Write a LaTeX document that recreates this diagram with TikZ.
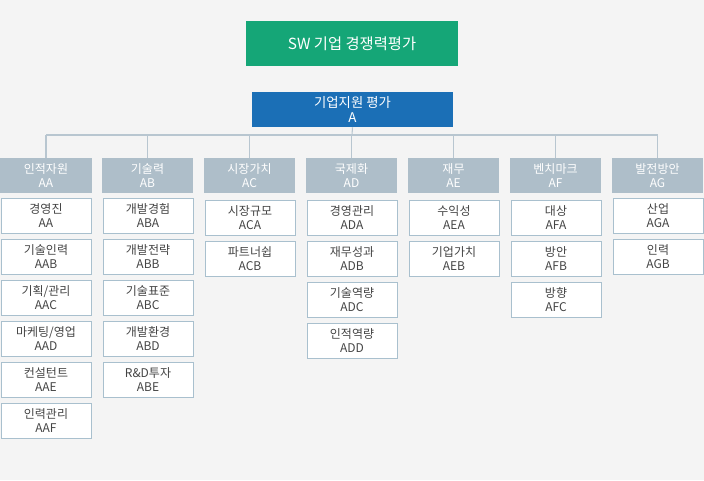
\documentclass[tikz,border=0pt]{standalone}
\usepackage{fontspec}
\setmainfont{Noto Sans CJK KR}
\definecolor{bggray}{HTML}{F4F4F4}
\definecolor{topgreen}{HTML}{15A677}
\definecolor{topblue}{HTML}{1B6FB6}
\definecolor{headgray}{HTML}{AEBEC9}
\definecolor{itemline}{HTML}{A9C0CE}
\definecolor{itemtext}{HTML}{444444}
\definecolor{linkgray}{HTML}{B8C6D0}
\tikzset{
  headbox/.style={fill=headgray,text=white,minimum width=68.25pt,minimum height=26.25pt,inner sep=0,align=center,font=\fontsize{9}{10.5}\selectfont},
  itembox/.style={fill=white,draw=itemline,text=itemtext,minimum width=67.5pt,minimum height=26.25pt,inner sep=0,align=center,font=\fontsize{9}{10.5}\selectfont},
  link/.style={draw=linkgray,line width=0.8pt}
}
\begin{document}
\begin{tikzpicture}[x=0.75pt,y=-0.75pt]
\fill[bggray] (0,0) rectangle (704,480);

\node[fill=topgreen,text=white,minimum width=159pt,minimum height=33.75pt,inner sep=0,font=\fontsize{11.5}{13}\selectfont] (top) at (352,43.5) {SW 기업 경쟁력평가};
\node[fill=topblue,text=white,minimum width=150.75pt,minimum height=26.25pt,inner sep=0,align=center,font=\fontsize{10}{11}\selectfont] (root) at (352.5,109.5) {기업지원 평가\\A};

\coordinate (bus) at (352,135);
\draw[link] (root.south) -- (bus);
\draw[link] (46,135) -- (658,135);

% headers
\node[headbox] (AA) at (46,175.5) {인적자원\\AA};
\node[headbox] (AB) at (147.5,175.5) {기술력\\AB};
\node[headbox] (AC) at (249.5,175.5) {시장가치\\AC};
\node[headbox] (AD) at (351.5,175.5) {국제화\\AD};
\node[headbox] (AE) at (453.5,175.5) {재무\\AE};
\node[headbox] (AF) at (555.5,175.5) {벤치마크\\AF};
\node[headbox] (AG) at (657.5,175.5) {발전방안\\AG};
\foreach \h in {AA,AB,AC,AD,AE,AF,AG}
  \draw[link] (\h.center |- bus) -- (\h.north);

% items
\foreach \t [count=\i] in {경영진\\AA,기술인력\\AAB,기획/관리\\AAC,마케팅/영업\\AAD,컨설턴트\\AAE,인력관리\\AAF}
  \node[itembox] (AA\i) at (46,215.5+41*\i-41) {\t};
\foreach \t [count=\i] in {개발경험\\ABA,개발전략\\ABB,기술표준\\ABC,개발환경\\ABD,R\&D투자\\ABE}
  \node[itembox] (AB\i) at (148,215.5+41*\i-41) {\t};
\foreach \t [count=\i] in {시장규모\\ACA,파트너쉽\\ACB}
  \node[itembox] (AC\i) at (250,217.5+41*\i-41) {\t};
\foreach \t [count=\i] in {경영관리\\ADA,재무성과\\ADB,기술역량\\ADC,인적역량\\ADD}
  \node[itembox] (AD\i) at (352,217.5+41*\i-41) {\t};
\foreach \t [count=\i] in {수익성\\AEA,기업가치\\AEB}
  \node[itembox] (AE\i) at (454,217.5+41*\i-41) {\t};
\foreach \t [count=\i] in {대상\\AFA,방안\\AFB,방향\\AFC}
  \node[itembox] (AF\i) at (556,217.5+41*\i-41) {\t};
\foreach \t [count=\i] in {산업\\AGA,인력\\AGB}
  \node[itembox] (AG\i) at (658,215.5+41*\i-41) {\t};
\end{tikzpicture}
\end{document}
